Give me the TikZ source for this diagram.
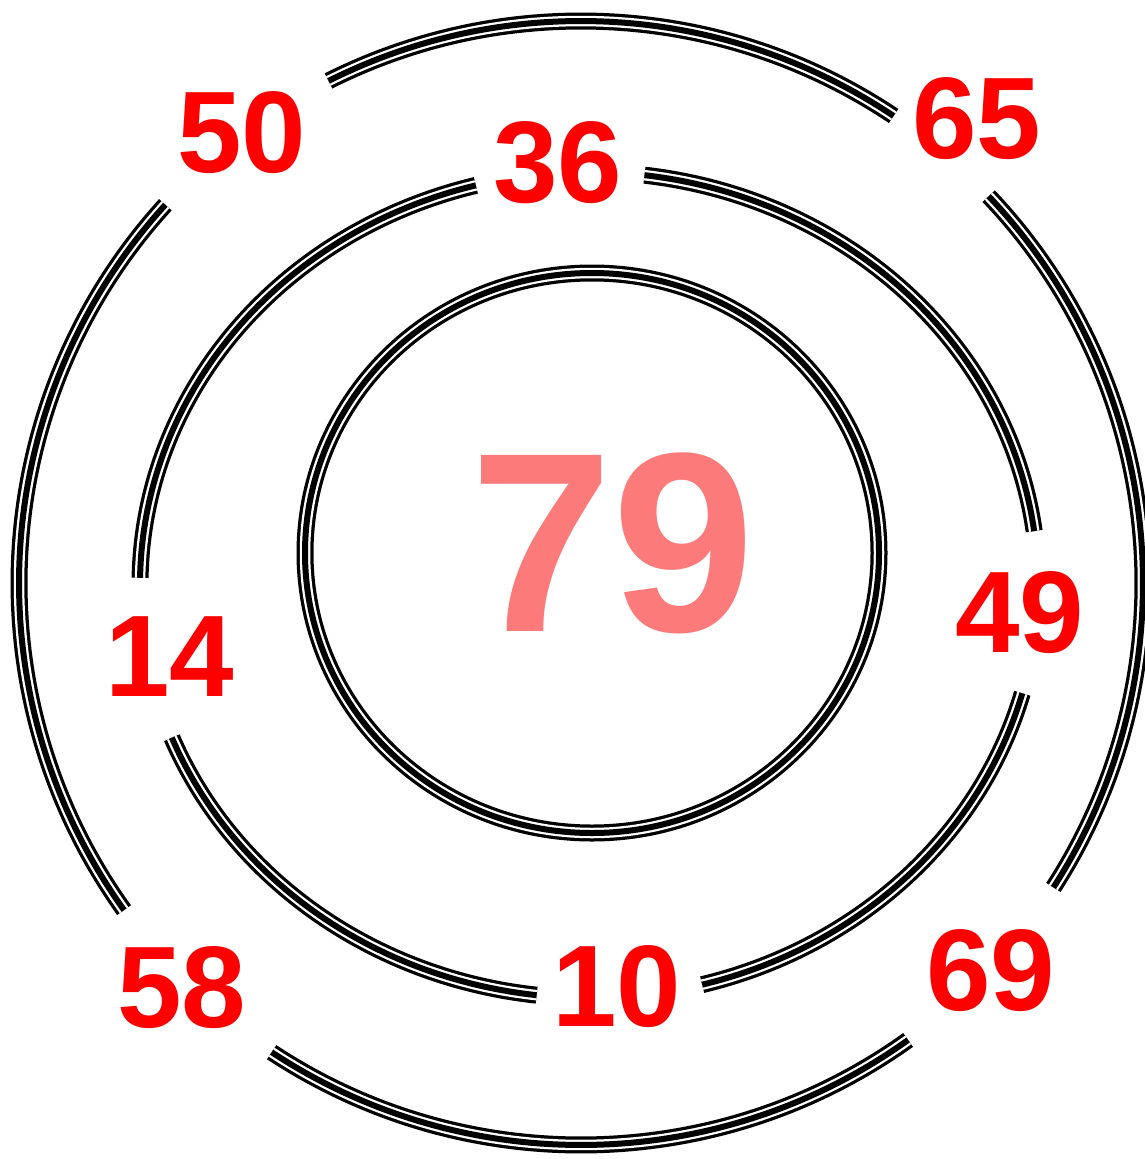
\documentclass[tikz,border=0pt]{standalone}
\usepackage{fontspec}
\setmainfont{Liberation Sans}
\definecolor{numred}{RGB}{255,0,0}
\definecolor{centerred}{RGB}{252,122,122}
\begin{document}
\begin{tikzpicture}[x=1pt,y=-1pt,
  triple/.style={line width=17pt,draw=black,
    postaction={draw=white,line width=10.5pt},
    postaction={draw=black,line width=6pt}},
  num/.style={text=numred,font=\fontsize{116}{116}\selectfont\bfseries,inner sep=0pt,anchor=center},
  bignum/.style={text=centerred,font=\fontsize{256}{256}\selectfont\bfseries,inner sep=0pt,anchor=center}]
\useasboundingbox (0,0) rectangle (1144,1159);
% inner ellipse
\draw[triple] (592,553) ellipse[x radius=287,y radius=280];
% middle ellipse arcs
\draw[triple] ([shift={(589,585)}]-82.9:449 and 413) arc[start angle=-82.9,end angle=-7.5,x radius=449,y radius=413];
\draw[triple] ([shift={(589,585)}]15.2:449 and 413) arc[start angle=15.2,end angle=75.4,x radius=449,y radius=413];
\draw[triple] ([shift={(589,585)}]96.7:449 and 413) arc[start angle=96.7,end angle=158.3,x radius=449,y radius=413];
\draw[triple] ([shift={(589,585)}]181:449 and 413) arc[start angle=181,end angle=255.4,x radius=449,y radius=413];
% outer circle arcs
\draw[triple] ([shift={(581,583)}]-116.7:562) arc[start angle=-116.7,end angle=-56.2,radius=562];
\draw[triple] ([shift={(581,583)}]-43.5:562) arc[start angle=-43.5,end angle=32.8,radius=562];
\draw[triple] ([shift={(581,583)}]54.4:562) arc[start angle=54.4,end angle=123.4,radius=562];
\draw[triple] ([shift={(581,583)}]144.4:562) arc[start angle=144.4,end angle=222.3,radius=562];
% labels
\node[bignum] (c79) at (613,543) {79};
\node[num] (n50) at (242,133) {50};
\node[num] (n36) at (558,163) {36};
\node[num] (n65) at (977,119) {65};
\node[num] (n14) at (170,657) {14};
\node[num] (n49) at (1020,613) {49};
\node[num] (n58) at (182,988) {58};
\node[num] (n10) at (617,987) {10};
\node[num] (n69) at (991,971) {69};
\end{tikzpicture}
\end{document}
